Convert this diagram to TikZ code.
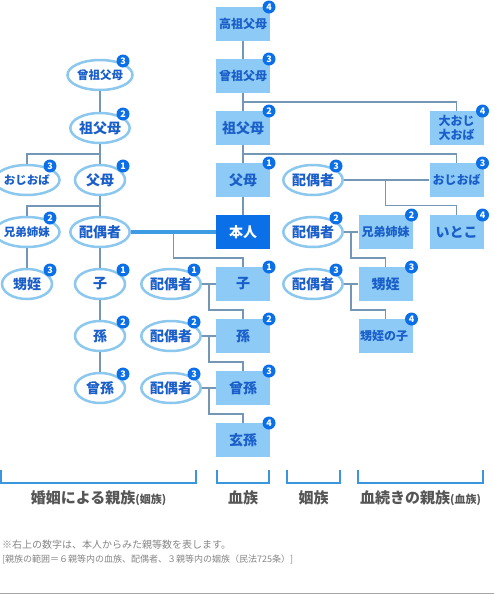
\documentclass[tikz,border=0pt]{standalone}
\usepackage{fontspec}
\setmainfont{Noto Sans CJK JP}
\usetikzlibrary{shapes.geometric,calc}

\definecolor{boxblue}{HTML}{8DCBF6}
\definecolor{selfblue}{HTML}{0B6FE8}
\definecolor{textblue}{HTML}{1A5EC9}
\definecolor{ringblue}{HTML}{8CC7EE}
\definecolor{linegray}{HTML}{7397B5}
\definecolor{thickblue}{HTML}{3C9BE3}
\definecolor{bracketblue}{HTML}{3A96DD}
\definecolor{grouptext}{HTML}{555555}
\definecolor{notegray}{HTML}{858585}

\begin{document}
\begin{tikzpicture}
		[
			x=1pt, y=-1pt,
			blood/.style={rectangle, fill=boxblue, text=textblue, align=center, inner sep=0pt, minimum width=54pt, minimum height=34pt, font=\bfseries\fontsize{14}{16}\selectfont},
			bloodsm/.style={blood, font=\bfseries\fontsize{12}{14}\selectfont},
			selfbox/.style={blood, fill=selfblue, text=white},
			inlaw/.style={ellipse, draw=ringblue, line width=2.5pt, fill=white, text=textblue, inner sep=0pt, minimum width=50pt, minimum height=30pt, font=\bfseries\fontsize{14}{16}\selectfont},
			inlawsm/.style={inlaw, font=\bfseries\fontsize{11.5}{13}\selectfont},
			badge/.style={circle, fill=selfblue, text=white, inner sep=0pt, minimum size=13pt, font=\bfseries\fontsize{9}{9}\selectfont},
			link/.style={draw=linegray, line width=1.5pt},
			spouselink/.style={draw=thickblue, line width=4pt},
			bracket/.style={draw=bracketblue, line width=2pt},
			group/.style={text=grouptext, inner sep=0pt, font=\bfseries\fontsize{15}{17}\selectfont},
			note/.style={anchor=west, inner sep=0pt, text=notegray},
		]

		\useasboundingbox (0,0) rectangle (494,595);

		% Blood relatives
		\foreach \style/\name/\x/\y/\text in
		{
			bloodsm/koso/243/24/高祖父母,
			bloodsm/hiso/243/76/曾祖父母,
			blood/sofu/243/128/祖父母,
			blood/fubo/243/180/父母,
			selfbox/honnin/243/232/本人,
			blood/ko/243/284/子,
			blood/mago/243/336/孫,
			blood/himago/243/388/曾孫,
			blood/genson/243/440/玄孫,
			bloodsm/oooji/456.5/128/{大おじ\\大おば},
			bloodsm/oji/456.5/180/おじおば,
			blood/itoko/456.5/232/いとこ,
			bloodsm/kyodai/385.5/232/兄弟姉妹,
			blood/oime/385.5/284/甥姪,
			bloodsm/oimeko/385.5/336/甥姪の子
		}
			\node[\style] (\name) at (\x,\y) {\text};

		% Relatives by marriage
		\foreach \style/\name/\x/\y/\text in
		{
			inlawsm/l-hiso/100/75/曾祖父母,
			inlaw/l-sofu/100/128/祖父母,
			inlawsm/l-oji/27/180/おじおば,
			inlaw/l-fubo/100/180/父母,
			inlawsm/l-kyodai/27/232/兄弟姉妹,
			inlaw/spouse/100/232/配偶者,
			inlaw/l-oime/27/284/甥姪,
			inlaw/l-ko/100/284/子,
			inlaw/l-mago/100/336/孫,
			inlaw/l-himago/100/388/曾孫,
			inlaw/s-ko/171/284/配偶者,
			inlaw/s-mago/171/336/配偶者,
			inlaw/s-himago/171/388/配偶者,
			inlaw/s-oji/313/180/配偶者,
			inlaw/s-kyodai/313/232/配偶者,
			inlaw/s-oime/313/284/配偶者
		}
			\node[\style] (\name) at (\x,\y) {\text};

		% Links
		\foreach \u/\v in {koso/hiso, hiso/sofu, sofu/fubo, fubo/honnin, s-oji/oji, s-kyodai/kyodai, s-oime/oime,
			s-ko/ko, s-mago/mago, s-himago/himago, l-hiso/l-sofu, l-sofu/l-fubo, l-fubo/spouse, l-kyodai/l-oime,
			spouse/l-ko, l-ko/l-mago, l-mago/l-himago}
			\draw[link] (\u) -- (\v);
		\draw[link] (oooji.north) |- ($(hiso.south)!0.5!(sofu.north)$);
		\draw[link] (oji.north) |- ($(sofu.south)!0.5!(fubo.north)$);
		\draw[link] (l-oji.north) |- ($(l-sofu.south)!0.5!(l-fubo.north)$);
		\draw[link] (l-kyodai.north) |- ($(l-fubo.south)!0.5!(spouse.north)$);
		\draw[link] (s-oji -| kyodai) -- ++(0,25.5) -| (itoko.north);
		\foreach \u/\v/\w in {s-kyodai/kyodai/oime, s-oime/oime/oimeko, spouse/honnin/ko, s-ko/ko/mago, s-mago/mago/himago, s-himago/himago/genson}
			\draw[link] ($(\u.east)!0.5!(\v.west)$) -- ++(0,26) -| (\w.north);
		\draw[spouselink] (spouse) -- (honnin);

		% Degrees
		\foreach \name/\deg in {koso/4, hiso/3, sofu/2, fubo/1, ko/1, mago/2, himago/3, genson/4,
			oooji/4, oji/3, itoko/4, kyodai/2, oime/3, oimeko/4}
			\node[badge] (\name-deg) at ($(\name.center)+(26,-17)$) {\deg};
		\foreach \name/\deg in {l-hiso/3, l-sofu/2, l-oji/3, l-fubo/1, l-kyodai/2, l-oime/3, l-ko/1, l-mago/2, l-himago/3,
			s-ko/1, s-mago/2, s-himago/3, s-oji/3, s-kyodai/2, s-oime/3}
			\node[badge] (\name-deg) at ($(\name.center)+(23,-14)$) {\deg};

		% Groups
		\foreach \xa/\xb/\name/\text in
		{
			1/196/g-inlaw/{婚姻による親族{\fontsize{11}{13}\selectfont(姻族)}},
			217/269/g-blood/血族,
			287/340/g-affine/姻族,
			358/483/g-kin/{血続きの親族{\fontsize{11}{13}\selectfont(血族)}}
		}
		{
			\draw[bracket] (\xa,470) |- (\xb,483) -- (\xb,470);
			\node[group] (\name) at ({(\xa+\xb)/2},498) {\text};
		}

		% Notes
		\node[note, font=\fontsize{10}{12}\selectfont] (note1) at (2,545) {※右上の数字は、本人からみた親等数を表します。};
		\node[note, font=\fontsize{9}{11}\selectfont] (note2) at (2,559) {[親族の範囲＝６親等内の血族、配偶者、３親等内の姻族（民法725条）]};
		\draw[draw=black!35, line width=1pt] (0,593) -- (494,593);

		\end{tikzpicture}
\end{document}
